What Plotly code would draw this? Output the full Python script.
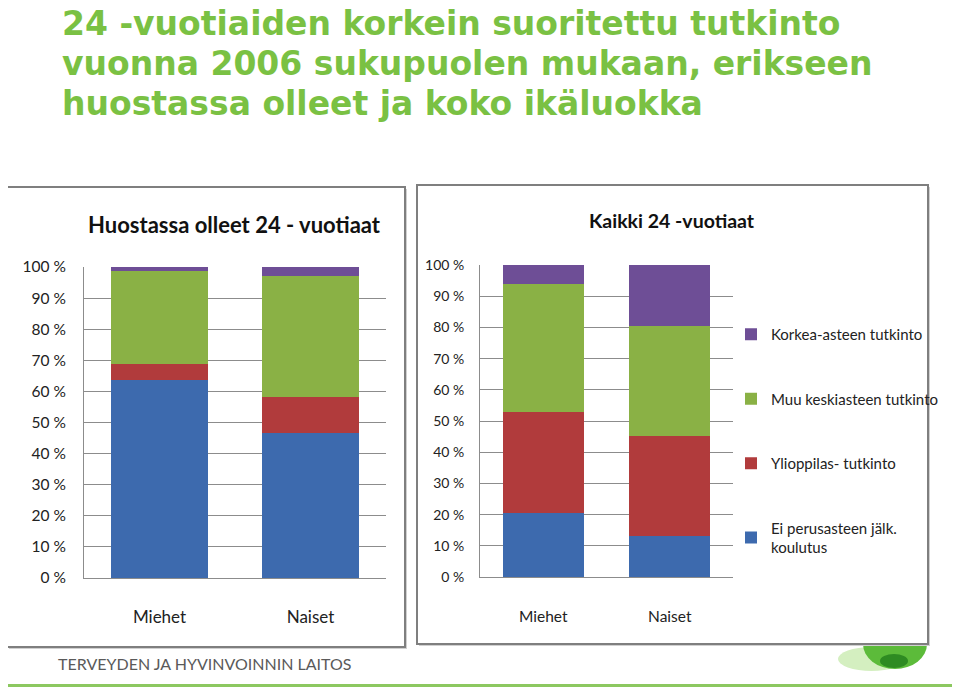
import plotly.graph_objects as go

# data (percent of each group)
categories = ["Miehet", "Naiset"]
series_names = ["Ei perusasteen jälk.<br>koulutus", "Ylioppilas- tutkinto",
                "Muu keskiasteen tutkinto", "Korkea-asteen tutkinto"]
series_colors = ["#3D6AAE", "#B13B3C", "#8AB145", "#6E4E96"]

# Huostassa olleet 24-vuotiaat
huostassa_ei_perus = [63.8, 46.6]
huostassa_ylioppilas = [5.0, 11.5]
huostassa_muu_keski = [29.8, 39.1]
huostassa_korkea = [1.4, 2.8]

# Kaikki 24-vuotiaat
kaikki_ei_perus = [20.5, 13.1]
kaikki_ylioppilas = [32.4, 32.1]
kaikki_muu_keski = [41.0, 35.3]
kaikki_korkea = [6.1, 19.5]

tick_vals = [0, 10, 20, 30, 40, 50, 60, 70, 80, 90, 100]
tick_text = ["0 %", "10 %", "20 %", "30 %", "40 %", "50 %", "60 %", "70 %", "80 %", "90 %", "100 %"]

title_lines = ["24 -vuotiaiden korkein suoritettu tutkinto",
               "vuonna 2006 sukupuolen mukaan, erikseen",
               "huostassa olleet ja koko ikäluokka"]

W, H = 960, 687
OFF = 8  # page body margin shifts the figure, compensate
FONT = "Lato, Carlito, sans-serif"


def px(x):
    return (x - OFF) / W


def py(y):
    return 1 - (y - OFF) / H


fig = go.Figure()

left_sets = [huostassa_ei_perus, huostassa_ylioppilas, huostassa_muu_keski, huostassa_korkea]
right_sets = [kaikki_ei_perus, kaikki_ylioppilas, kaikki_muu_keski, kaikki_korkea]

for i, name in enumerate(series_names):
    fig.add_trace(go.Bar(x=categories, y=left_sets[i], name=name, marker_color=series_colors[i],
                         marker_line_width=0, legendgroup=str(i), showlegend=False,
                         xaxis="x", yaxis="y"))
    fig.add_trace(go.Bar(x=categories, y=right_sets[i], name=name, marker_color=series_colors[i],
                         marker_line_width=0, legendgroup=str(i), showlegend=True,
                         legendrank=len(series_names) - i, xaxis="x2", yaxis="y2"))

yaxis_style = dict(range=[0, 100], tickvals=tick_vals, ticktext=tick_text,
                   showgrid=True, gridcolor="#8C8C8C", gridwidth=1,
                   showline=True, linecolor="#8C8C8C", linewidth=1,
                   zeroline=False, ticks="", automargin=False, fixedrange=True)
xaxis_style = dict(range=[-0.5, 1.5], showline=True, linecolor="#8C8C8C", linewidth=1,
                   ticks="", showgrid=False, automargin=False, fixedrange=True)

fig.update_layout(
    width=W, height=H,
    margin=dict(l=0, r=0, t=0, b=0, autoexpand=False),
    paper_bgcolor="white", plot_bgcolor="rgba(0,0,0,0)",
    barmode="stack", bargap=0.36,
    xaxis=dict(domain=[px(84), px(386)], anchor="y", ticklabelstandoff=24,
               tickfont=dict(family=FONT, size=17, color="#222"), **xaxis_style),
    yaxis=dict(domain=[py(578), py(267)], anchor="x", ticklabelstandoff=14,
               tickfont=dict(family=FONT, size=15.5, color="#222"), **yaxis_style),
    xaxis2=dict(domain=[px(480), px(733)], anchor="y2", ticklabelstandoff=25,
                tickfont=dict(family=FONT, size=15.5, color="#222"), **xaxis_style),
    yaxis2=dict(domain=[py(577), py(265)], anchor="x2", ticklabelstandoff=12,
                tickfont=dict(family=FONT, size=14, color="#222"), **yaxis_style),
    legend=dict(x=px(731), y=py(318), xanchor="left", yanchor="top",
                traceorder="grouped", tracegroupgap=42,
                font=dict(family=FONT, size=15, color="#222"),
                bgcolor="rgba(0,0,0,0)"),
)

shapes = []
# logo behind panel
shapes.append(dict(type="circle", xref="paper", yref="paper", layer="below",
                   x0=px(838), x1=px(905), y0=py(671), y1=py(647),
                   fillcolor="#D4EFC0", line_width=0))
shapes.append(dict(type="circle", xref="paper", yref="paper", layer="below",
                   x0=px(863), x1=px(927), y0=py(669), y1=py(619),
                   fillcolor="#5CBB3A", line_width=0))
shapes.append(dict(type="circle", xref="paper", yref="paper", layer="below",
                   x0=px(880), x1=px(908), y0=py(668), y1=py(654),
                   fillcolor="#2E8B22", line_width=0))
# panels with soft shadow
for x0, y0, x1, y1 in [(7, 187, 405, 647), (417, 185, 928, 644)]:
    shapes.append(dict(type="rect", xref="paper", yref="paper", layer="below",
                       x0=px(x0 + 2), x1=px(x1 + 2), y0=py(y1 + 2), y1=py(y0 + 2),
                       fillcolor="#D0D0D0", line_width=0))
    shapes.append(dict(type="rect", xref="paper", yref="paper", layer="below",
                       x0=px(x0), x1=px(x1), y0=py(y1), y1=py(y0),
                       fillcolor="white", line=dict(color="#7F7F7F", width=2)))
# bottom green rule
shapes.append(dict(type="rect", xref="paper", yref="paper", layer="below",
                   x0=0, x1=1, y0=py(688), y1=py(684),
                   fillcolor="#8CC860", line_width=0))
fig.update_layout(shapes=shapes)

annotations = []
for k, line in enumerate(title_lines):
    annotations.append(dict(text=line, xref="paper", yref="paper", x=px(60), y=py(23 + 40.2 * k),
                            xanchor="left", yanchor="middle", showarrow=False,
                            font=dict(family="DejaVu Sans, sans-serif", size=33,
                                      color="#7AC143", weight="bold")))
annotations.append(dict(text="<b>Huostassa olleet 24 - vuotiaat</b>", xref="paper", yref="paper",
                        x=px(234), y=py(224), xanchor="center", yanchor="middle", showarrow=False,
                        font=dict(family=FONT, size=22, color="#111")))
annotations.append(dict(text="<b>Kaikki 24 -vuotiaat</b>", xref="paper", yref="paper",
                        x=px(672), y=py(221), xanchor="center", yanchor="middle", showarrow=False,
                        font=dict(family=FONT, size=19.5, color="#111")))
annotations.append(dict(text="TERVEYDEN JA HYVINVOINNIN LAITOS", xref="paper", yref="paper",
                        x=px(56), y=py(663), xanchor="left", yanchor="middle", showarrow=False,
                        font=dict(family=FONT, size=16, color="#5A5A5A")))
fig.update_layout(annotations=annotations)

fig.write_html("out.html")
